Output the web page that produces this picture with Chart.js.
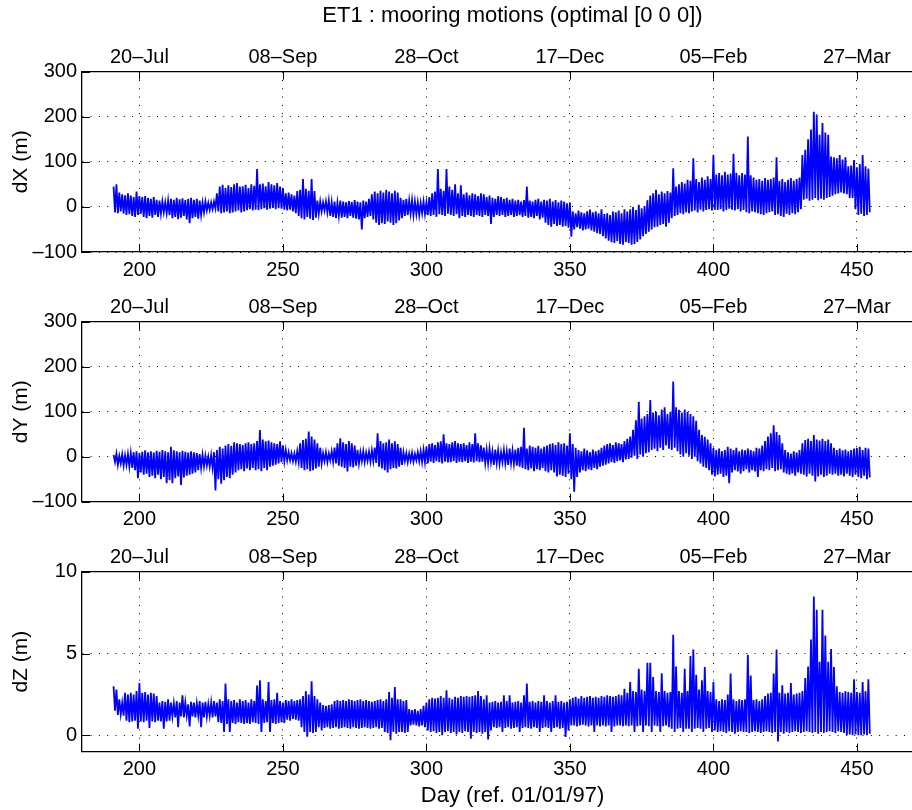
<!DOCTYPE html>
<html>
<head>
<meta charset="utf-8">
<title>ET1 mooring motions</title>
<script src="https://cdn.jsdelivr.net/npm/chart.js@4.4.1/dist/chart.umd.min.js"></script>
<style>
  html, body { margin: 0; padding: 0; background: #fff; overflow: hidden; width: 912px; height: 810px; }
  canvas { position: absolute; left: 0; }
</style>
</head>
<body>
<canvas id="dx" width="943" height="290" style="top:0px"></canvas>
<canvas id="dy" width="943" height="250" style="top:290px"></canvas>
<canvas id="dz" width="943" height="270" style="top:540px"></canvas>
<script>
// daily extremes of the mooring displacement, one entry per day starting at day 191
const firstDay = 191;

const dxHigh = [
  45, 50, 32, 28, 26, 30, 25, 22, 34, 24,
  22, 24, 20, 18, 22, 16, 14, 12, 10, 14,
  18, 16, 20, 17, 19, 15, 18, 20, 16, 18,
  14, 10, 12, 9, 10, 12, 30, 45, 49, 42,
  48, 44, 50, 53, 45, 46, 49, 42, 50, 47,
  84, 50, 52, 46, 55, 50, 48, 53, 45, 42,
  30, 32, 28, 25, 35, 38, 62, 40, 36, 62,
  35, 14, 12, 10, 12, 14, 10, 12, 9, 14,
  12, 10, 13, 11, 15, 12, 10, 14, 12, 18,
  28, 34, 30, 36, 32, 38, 34, 30, 36, 32,
  20, 16, 18, 14, 15, 12, 10, 9, 12, 10,
  22, 30, 34, 84, 40, 36, 84, 45, 38, 50,
  30, 48, 28, 32, 26, 30, 28, 24, 30, 28,
  22, 25, 20, 18, 24, 22, 18, 20, 16, 18,
  14, 16, 12, 15, 45, 14, 12, 16, 18, 12,
  16, 14, 18, 12, 15, 10, 14, 12, 8, 10,
  -10, -14, -8, -12, -14, -10, -6, -12, -10, -14,
  -5, -16, -14, -18, -10, -12, -8, -14, -5, -10,
  -5, 0, -7, 5, -3, 2, 15, 25, 30, 38,
  28, 34, 30, 35, 32, 86, 45, 50, 55, 52,
  60, 58, 108, 62, 55, 65, 60, 68, 62, 115,
  72, 75, 70, 78, 72, 74, 118, 76, 70, 75,
  72, 156, 70, 65, 60, 62, 58, 64, 60, 62,
  65, 110, 58, 62, 55, 60, 64, 58, 62, 65,
  115, 127, 150, 172, 211, 205, 160, 186, 165, 160,
  112, 110, 108, 115, 105, 110, 90, 92, 104, 88,
  95, 115, 90, 85
];
const dxLow = [
  -12, -14, -10, -15, -18, -16, -20, -22, -18, -15,
  -22, -25, -20, -24, -18, -22, -15, -12, -14, -18,
  -25, -22, -27, -24, -20, -28, -36, -25, -22, -26,
  -18, -12, -8, -7, -5, -3, -10, -14, -12, -10,
  -14, -12, -10, -8, -12, -10, -7, -5, -8, -6,
  -7, -5, -3, -6, -4, -2, -5, -3, -4, -6,
  -8, -6, -10, -14, -20, -25, -28, -22, -26, -29,
  -24, -15, -10, -8, -12, -20, -22, -25, -20, -24,
  -22, -25, -20, -24, -26, -28, -50, -25, -22, -20,
  -28, -35, -40, -36, -38, -32, -35, -40, -36, -30,
  -25, -20, -18, -15, -18, -16, -18, -14, -16, -18,
  -20, -18, -22, -16, -18, -20, -15, -18, -20, -16,
  -25, -20, -22, -18, -20, -22, -18, -20, -22, -18,
  -20, -38, -22, -18, -20, -18, -22, -20, -18, -22,
  -20, -18, -22, -20, -24, -22, -25, -20, -28, -24,
  -35, -40, -44, -38, -42, -40, -44, -42, -46, -66,
  -50, -45, -48, -52, -50, -48, -52, -55, -58, -60,
  -65, -70, -75, -78, -80, -76, -82, -84, -78, -80,
  -84, -82, -78, -72, -65, -60, -55, -50, -45, -44,
  -40, -38, -44, -35, -25, -20, -18, -14, -16, -12,
  -14, -10, -8, -12, -6, -10, -7, -5, -8, -6,
  -7, -5, -10, -7, -4, -6, -8, -5, -10, -7,
  -12, -14, -10, -12, -14, -16, -18, -14, -12, -10,
  -18, -16, -20, -22, -15, -18, -14, -16, -12, -5,
  16, 18, 14, 16, 20, 15, 18, 16, 20, 22,
  25, 28, 30, 32, 30, 28, 20, 20, -5, -18,
  -15, -20, -18, -12
];

const dyHigh = [
  4, 7, 2, 5, 3, 6, 8, 10, 12, 8,
  11, 14, 10, 12, 9, 13, 11, 15, 12, 10,
  22, 14, 12, 10, 13, 11, 9, 12, 10, 8,
  6, 4, 2, 0, 3, 10, 15, 22, 18, 25,
  28, 24, 32, 30, 28, 26, 30, 32, 28, 30,
  35, 59, 38, 34, 36, 32, 30, 28, 34, 25,
  15, 10, 8, 7, 12, 30, 37, 40, 56, 45,
  38, 30, 20, 8, 10, 7, 12, 20, 30, 41,
  32, 28, 35, 30, 25, 15, 10, 12, 9, 11,
  14, 20, 52, 35, 30, 32, 38, 30, 34, 28,
  20, 10, 8, 7, 9, 6, 10, 12, 15, 22,
  28, 30, 26, 32, 34, 50, 30, 28, 32, 35,
  30, 28, 30, 26, 32, 28, 52, 30, 25, 20,
  15, 18, 12, 16, 14, 10, 15, 12, 18, 14,
  16, 20, 22, 64, 18, 25, 22, 20, 24, 18,
  22, 25, 28, 30, 26, 32, 28, 30, 25, 52,
  28, 20, 15, 12, 18, 14, 10, 16, 12, 15,
  20, 25, 28, 30, 26, 32, 30, 28, 35, 40,
  45, 60, 81, 122, 85, 90, 95, 126, 98, 100,
  92, 105, 110, 95, 100, 167, 110, 104, 98, 105,
  100, 95, 90, 80, 60, 48, 44, 38, 30, 20,
  15, 18, 12, 15, 22, 18, 15, 20, 12, 16,
  14, 18, 15, 12, 20, 18, 25, 35, 45, 52,
  70, 55, 48, 30, 15, 10, 7, 12, 9, 15,
  30, 37, 40, 35, 48, 38, 36, 40, 35, 38,
  30, 20, 15, 18, 14, 16, 12, 15, 18, 19,
  22, 15, 20, 18
];
const dyLow = [
  -12, -18, -15, -20, -18, -22, -25, -30, -48, -35,
  -40, -38, -45, -42, -48, -40, -50, -45, -59, -52,
  -59, -48, -44, -63, -46, -42, -40, -38, -35, -30,
  -25, -22, -20, -22, -25, -75, -50, -60, -52, -45,
  -48, -40, -35, -30, -28, -32, -26, -30, -25, -30,
  -28, -32, -25, -30, -22, -20, -18, -15, -12, -10,
  -8, -8, -10, -11, -12, -25, -30, -28, -32, -30,
  -26, -22, -15, -10, -12, -8, -11, -15, -20, -22,
  -25, -33, -22, -24, -20, -15, -10, -12, -9, -11,
  -10, -14, -22, -26, -30, -35, -28, -25, -26, -22,
  -18, -10, -12, -9, -11, -8, -10, -12, -12, -15,
  -11, -14, -10, -12, -15, -11, -13, -12, -10, -14,
  -11, -12, -10, -14, -11, -13, -10, -12, -11, -14,
  -15, -12, -18, -14, -16, -12, -15, -18, -14, -16,
  -20, -22, -25, -28, -30, -26, -32, -28, -30, -25,
  -32, -35, -30, -35, -44, -40, -42, -45, -38, -50,
  -78, -45, -35, -30, -32, -28, -30, -25, -28, -22,
  -20, -18, -15, -12, -14, -10, -8, -12, -6, -5,
  -2, 2, -5, 5, 0, 8, 10, 15, 18, 12,
  20, 15, 25, 18, 15, 20, 12, 5, 0, 8,
  2, -5, 0, -10, -15, -22, -25, -30, -40, -44,
  -40, -38, -45, -42, -59, -35, -30, -33, -38, -32,
  -28, -35, -30, -33, -45, -30, -32, -28, -30, -25,
  -32, -30, -28, -35, -38, -40, -37, -42, -35, -38,
  -40, -44, -38, -42, -55, -44, -40, -45, -42, -38,
  -40, -38, -42, -40, -44, -38, -42, -45, -40, -45,
  -48, -42, -50, -46
];

const dzHigh = [
  3.0, 2.8, 2.2, 2.0, 2.6, 2.5, 2.6, 2.5, 2.7, 3.2,
  2.6, 2.65, 2.5, 2.6, 2.55, 2.4, 2.0, 2.1, 2.05, 2.2,
  2.0, 1.95, 2.1, 2.0, 2.45, 2.0, 1.9, 2.05, 2.0, 1.95,
  2.1, 2.0, 2.05, 1.9, 2.0, 2.1, 2.0, 2.2, 2.1, 3.16,
  2.2, 2.1, 2.15, 2.0, 2.2, 2.1, 2.15, 2.0, 2.2, 2.1,
  3.05, 3.36, 2.2, 2.1, 3.26, 2.15, 2.2, 2.6, 2.1, 2.0,
  2.15, 2.1, 2.2, 2.1, 2.15, 2.2, 2.4, 2.7, 2.5, 3.3,
  2.4, 2.2, 2.0, 1.85, 1.8, 1.85, 1.9, 2.1, 2.15, 2.1,
  2.15, 2.1, 2.2, 2.15, 2.1, 2.15, 2.2, 2.1, 2.15, 2.1,
  2.05, 2.1, 2.15, 2.2, 2.1, 2.2, 2.65, 2.3, 2.95, 2.2,
  2.2, 2.1, 2.15, 1.6, 1.55, 1.6, 1.5, 1.6, 1.8, 2.0,
  2.2, 2.3, 2.25, 2.3, 2.4, 2.3, 2.75, 2.3, 2.2, 2.35,
  2.3, 2.4, 2.35, 2.4, 2.35, 2.4, 2.45, 2.7, 2.4, 2.2,
  2.45, 2.0, 2.05, 2.1, 2.0, 2.05, 2.45, 2.1, 2.45, 2.0,
  2.05, 2.1, 2.0, 2.45, 3.16, 2.05, 2.1, 2.0, 2.1, 2.05,
  2.45, 2.1, 2.0, 2.1, 2.45, 2.05, 2.1, 2.0, 2.05, 2.2,
  2.3, 2.35, 2.25, 2.4, 2.3, 2.35, 2.4, 2.3, 2.35, 2.3,
  2.4, 2.35, 2.45, 2.4, 2.35, 2.4, 2.5, 2.45, 2.85, 2.6,
  3.26, 2.7, 2.65, 4.07, 2.8, 2.7, 4.43, 4.43, 3.56, 2.7,
  2.65, 3.8, 2.7, 2.6, 2.65, 6.15, 4.2, 2.7, 2.6, 4.07,
  2.7, 4.84, 5.24, 3.7, 2.8, 3.36, 4.17, 2.7, 2.65, 3.26,
  2.2, 2.1, 2.2, 2.15, 2.5, 3.77, 2.2, 2.1, 2.2, 2.15,
  2.2, 4.92, 3.66, 2.15, 2.2, 2.1, 2.2, 2.4, 2.55, 2.6,
  3.77, 5.24, 2.6, 3.06, 2.55, 2.6, 3.2, 2.5, 2.55, 2.6,
  2.7, 3.5, 4.2, 5.85, 8.48, 7.67, 4.5, 7.67, 6.1, 4.5,
  5.28, 4.17, 3.0, 2.65, 2.6, 2.7, 2.65, 2.6, 3.42, 2.65,
  2.6, 3.26, 2.7, 3.42
];
const dzLow = [
  1.5, 1.25, 1.3, 1.2, 0.9, 0.8, 0.85, 0.9, 0.4, 0.85,
  0.8, 0.9, 0.45, 0.85, 0.8, 0.9, 0.85, 0.4, 0.85, 0.9,
  1.15, 1.1, 0.5, 1.15, 1.1, 1.2, 0.55, 1.15, 1.1, 1.2,
  0.5, 1.1, 1.15, 1.2, 1.1, 1.15, 0.8, 0.75, 0.2, 0.7,
  0.2, 0.75, 0.7, 0.8, 0.75, 0.7, 0.75, 0.7, 0.8, 0.75,
  0.7, 0.2, 0.75, 0.8, 0.2, 0.75, 0.7, 0.75, 0.8, 0.75,
  0.95, 0.9, 1.0, 0.95, 0.9, 0.5, 0.2, -0.08, 0.2, 0.15,
  0.2, 0.5, 0.3, 0.45, 0.5, 0.4, 0.45, 0.5, 0.4, 0.45,
  0.5, 0.45, 0.4, 0.5, 0.45, 0.4, 0.45, 0.5, 0.45, 0.4,
  0.45, 0.5, 0.4, 0.45, 0.2, 0.15, -0.3, 0.2, 0.1, 0.2,
  0.2, 0.15, 0.2, 0.6, 0.65, 0.6, 0.55, 0.6, 0.5, 0.3,
  0.2, 0.25, 0.15, 0.2, 0.0, 0.2, 0.25, 0.15, 0.2, 0.05,
  0.2, 0.15, 0.25, 0.2, -0.2, 0.2, 0.15, 0.2, 0.1, 0.2,
  -0.25, 0.3, 0.5, 0.45, 0.5, 0.2, 0.45, 0.5, 0.4, 0.45,
  0.5, 0.2, 0.45, 0.5, 0.45, 0.4, 0.5, 0.45, 0.2, 0.45,
  0.5, 0.45, 0.2, 0.45, 0.5, 0.4, 0.45, -0.1, 0.3, 0.6,
  0.6, 0.55, 0.6, 0.65, 0.6, 0.55, 0.6, 0.2, 0.6, 0.55,
  0.6, 0.55, 0.6, 0.2, 0.55, 0.6, 0.6, 0.55, 0.6, 0.55,
  0.6, 0.2, 0.55, 0.6, 0.2, 0.6, 0.55, 0.2, 0.6, 0.55,
  0.2, 0.55, 0.6, 0.5, 0.4, 0.2, 0.4, 0.45, 0.2, 0.4,
  0.4, 0.2, 0.4, 0.45, 0.4, 0.2, 0.4, 0.45, 0.2, 0.3,
  0.2, 0.25, 0.2, 0.15, 0.25, 0.2, 0.1, 0.2, 0.25, 0.2,
  0.2, 0.15, 0.2, 0.25, 0.2, 0.15, 0.2, 0.25, 0.2, 0.15,
  0.2, -0.38, 0.2, 0.1, 0.2, 0.15, 0.2, 0.25, 0.2, 0.15,
  0.2, 0.25, 0.2, 0.15, 0.2, 0.1, 0.2, 0.15, 0.2, 0.25,
  0.2, 0.15, 0.25, 0.2, 0.15, 0.0, 0.05, 0.0, 0.05, 0.0,
  0.0, 0.05, 0.0, 0.1
];

const dayTicks = [200, 250, 300, 350, 400, 450];
const dateLabels = ['20–Jul', '08–Sep', '28–Oct', '17–Dec', '05–Feb', '27–Mar'];
const xyTicks = [-100, 0, 100, 200, 300];
const zTicks = [0, 5, 10];

const FONT = "'Liberation Sans', Arial, Helvetica, sans-serif";
Chart.defaults.font.family = FONT;
Chart.defaults.font.size = 20;
Chart.defaults.color = '#000';

// each day gives its high, then its low half a day later
function zigzag(high, low) {
  const pts = [];
  high.forEach((h, i) => {
    const d = firstDay + i;
    pts.push({ x: d, y: h });
    pts.push({ x: d + 0.5, y: low[i] });
  });
  return pts;
}

// matlab style ticks pointing into the box
const inwardTicks = {
  id: 'inwardTicks',
  afterDraw(chart) {
    const { ctx, chartArea: a, scales } = chart;
    ctx.save();
    ctx.strokeStyle = '#000';
    ctx.lineWidth = 1;
    ctx.beginPath();
    scales.x.ticks.forEach(t => {
      const px = Math.round(scales.x.getPixelForValue(t.value)) + 0.5;
      ctx.moveTo(px, a.bottom); ctx.lineTo(px, a.bottom - 8);
      ctx.moveTo(px, a.top); ctx.lineTo(px, a.top + 8);
    });
    scales.y.ticks.forEach(t => {
      const py = Math.round(scales.y.getPixelForValue(t.value)) + 0.5;
      ctx.moveTo(a.left, py); ctx.lineTo(a.left + 8, py);
      ctx.moveTo(a.right, py); ctx.lineTo(a.right - 8, py);
    });
    ctx.stroke();
    ctx.restore();
  }
};

const dotted = [1, 7.3];

function makePanel(id, p) {
  return new Chart(document.getElementById(id), {
    type: 'line',
    data: {
      datasets: [{
        data: zigzag(p.high, p.low),
        borderColor: '#0000ff',
        borderWidth: 1.8,
        pointRadius: 0,
        tension: 0
      }]
    },
    options: {
      responsive: false,
      animation: false,
      events: [],
      layout: { padding: 0 },
      plugins: { legend: { display: false }, tooltip: { enabled: false } },
      scales: {
        x: {
          type: 'linear', position: 'bottom', min: 180, max: 480,
          afterBuildTicks: s => { s.ticks = dayTicks.map(v => ({ value: v })); },
          afterFit: s => { s.height = p.bottomH; },
          ticks: { padding: 6, maxRotation: 0, callback: v => String(v) },
          grid: { color: '#000', lineWidth: 1, drawTicks: false },
          border: { color: '#000', width: 1.3, dash: dotted },
          title: p.xTitle ? {
            display: true, text: p.xTitle, font: { size: 22 }, padding: { top: 0, bottom: 1 }
          } : { display: false }
        },
        x2: {
          type: 'linear', axis: 'x', position: 'top', min: 180, max: 480,
          afterBuildTicks: s => { s.ticks = dayTicks.map(v => ({ value: v })); },
          afterFit: s => { s.height = p.topH; },
          ticks: { padding: 2.7, maxRotation: 0, callback: (v, i) => dateLabels[i] },
          grid: { display: false, drawTicks: false },
          border: { color: '#000', width: 1.3 },
          title: p.title ? {
            display: true, text: p.title, font: { size: 22 }, padding: { top: 2.8, bottom: 0 }
          } : { display: false }
        },
        y: {
          type: 'linear', min: p.yMin, max: p.yMax,
          afterBuildTicks: s => { s.ticks = p.yTicks.map(v => ({ value: v })); },
          afterFit: s => { s.width = 82; },
          ticks: { padding: 5, callback: v => (v < 0 ? '–' + (-v) : String(v)) },
          grid: { color: '#000', lineWidth: 1, drawTicks: false },
          border: { color: '#000', width: 1.3, dash: dotted },
          title: { display: true, text: p.yTitle, font: { size: 21 }, padding: { top: 8.4, bottom: 0 } }
        }
      }
    },
    plugins: [inwardTicks]
  });
}

makePanel('dx', {
  high: dxHigh, low: dxLow, yMin: -100, yMax: 300, yTicks: xyTicks,
  yTitle: 'dX (m)', title: 'ET1 : mooring motions (optimal [0 0 0])',
  topH: 71.7, bottomH: 38
});
makePanel('dy', {
  high: dyHigh, low: dyLow, yMin: -100, yMax: 300, yTicks: xyTicks,
  yTitle: 'dY (m)', topH: 31.7, bottomH: 38.3
});
makePanel('dz', {
  high: dzHigh, low: dzLow, yMin: -1, yMax: 10, yTicks: zTicks,
  yTitle: 'dZ (m)', xTitle: 'Day (ref. 01/01/97)',
  topH: 31.7, bottomH: 58.3
});
</script>
</body>
</html>
